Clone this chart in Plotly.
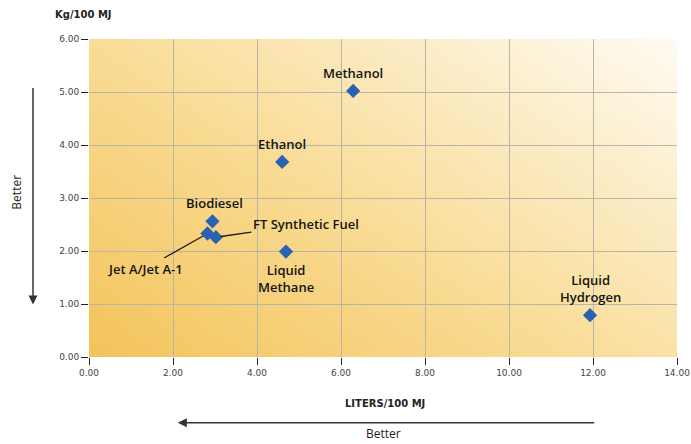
import base64
import struct
import zlib

import plotly.graph_objects as go

# ---- data ----
fuels = ["Methanol", "Ethanol", "Biodiesel", "FT Synthetic Fuel", "Jet A/Jet A-1",
         "Liquid Methane", "Liquid Hydrogen"]
liters_per_100mj = [6.29, 4.60, 2.94, 3.02, 2.82, 4.69, 11.93]
kg_per_100mj = [5.02, 3.68, 2.56, 2.26, 2.33, 1.99, 0.79]
label_text = ["Methanol", "Ethanol", "Biodiesel", "FT Synthetic Fuel", "Jet A/Jet A-1",
              "Liquid<br>Methane", "Liquid<br>Hydrogen"]
x_ticks = [0, 2, 4, 6, 8, 10, 12, 14]
y_ticks = [0, 1, 2, 3, 4, 5, 6]

# ---- label placement (style) ----
label_style = {
    "Methanol": dict(yshift=7, yanchor="bottom"),
    "Ethanol": dict(yshift=7, yanchor="bottom"),
    "Biodiesel": dict(yshift=7, xshift=2, yanchor="bottom"),
    "FT Synthetic Fuel": dict(showarrow=True, ax=90, ay=-13),
    "Jet A/Jet A-1": dict(showarrow=True, ax=-62, ay=35),
    "Liquid Methane": dict(yshift=-7, yanchor="top"),
    "Liquid Hydrogen": dict(yshift=7, yanchor="bottom"),
}


def gradient_png(w, h):
    stops = [(0.0, (243, 196, 92)), (0.45, (249, 220, 150)), (1.0, (254, 251, 242))]

    def col(t):
        for (t0, c0), (t1, c1) in zip(stops[:-1], stops[1:]):
            if t <= t1:
                f = (t - t0) / (t1 - t0)
                return bytes(int(round(a + (b - a) * f)) for a, b in zip(c0, c1))
        return bytes(stops[-1][1])

    raw = b""
    for j in range(h):
        row = b"\x00"
        for i in range(w):
            t = 0.55 * (i / (w - 1)) + 0.45 * (1 - j / (h - 1))
            row += col(t)
        raw += row

    def chunk(tag, data):
        c = struct.pack(">I", len(data)) + tag + data
        return c + struct.pack(">I", zlib.crc32(tag + data) & 0xFFFFFFFF)

    png = b"\x89PNG\r\n\x1a\n"
    png += chunk(b"IHDR", struct.pack(">IIBBBBB", w, h, 8, 2, 0, 0, 0))
    png += chunk(b"IDAT", zlib.compress(raw, 9))
    png += chunk(b"IEND", b"")
    return "data:image/png;base64," + base64.b64encode(png).decode()


fig = go.Figure()
fig.add_trace(go.Scatter(
    x=liters_per_100mj, y=kg_per_100mj, mode="markers", text=fuels,
    marker=dict(symbol="diamond", size=11, color="#2a62b2",
                line=dict(width=0)),
    hoverinfo="text", showlegend=False,
))

label_font = dict(family="Open Sans", size=13, color="#141414", weight=600)
annotations = []
for name, txt, xv, yv in zip(fuels, label_text, liters_per_100mj, kg_per_100mj):
    st = dict(showarrow=False)
    st.update(label_style[name])
    a = dict(x=xv, y=yv, xref="x", yref="y", text=txt, font=label_font)
    if st.get("showarrow"):
        a.update(showarrow=True, ax=st["ax"], ay=st["ay"], arrowhead=0,
                 arrowwidth=1.3, arrowcolor="#1c1c1c", standoff=5)
    else:
        a.update(showarrow=False, yshift=st.get("yshift", 0), xshift=st.get("xshift", 0),
                 yanchor=st.get("yanchor", "middle"))
    annotations.append(a)

title_font = dict(family="DejaVu Sans", size=10, color="#222", weight="bold")
better_font = dict(family="Open Sans", size=12, color="#222")
# axis titles
annotations.append(dict(x=-0.0102, y=1.078, xref="paper", yref="paper", text="Kg/100 MJ",
                        showarrow=False, font=title_font,
                        xanchor="center", yanchor="middle"))
annotations.append(dict(x=0.503, y=-0.145, xref="paper", yref="paper", text="LITERS/100 MJ",
                        showarrow=False, font=title_font,
                        xanchor="center", yanchor="middle"))
# "Better" arrows
annotations.append(dict(x=-0.0952, y=0.165, xref="paper", yref="paper", text="",
                        showarrow=True, ax=0, ay=-218, arrowhead=2, arrowsize=1.2,
                        arrowwidth=1.5, arrowcolor="#333"))
annotations.append(dict(x=-0.123, y=0.519, xref="paper", yref="paper", text="Better",
                        textangle=-90, showarrow=False, font=better_font,
                        xanchor="center", yanchor="middle"))
annotations.append(dict(x=0.151, y=-0.207, xref="paper", yref="paper", text="",
                        showarrow=True, ax=418, ay=0, arrowhead=2, arrowsize=1.2,
                        arrowwidth=1.5, arrowcolor="#333"))
annotations.append(dict(x=0.5, y=-0.239, xref="paper", yref="paper", text="Better",
                        showarrow=False, font=better_font,
                        xanchor="center", yanchor="middle"))

axis_common = dict(showgrid=True, gridcolor="#b8b4a8", gridwidth=1, zeroline=False,
                   showline=False, ticks="outside", ticklen=7, tickwidth=1.3,
                   tickcolor="#222", tickformat=".2f", automargin=False,
                   tickfont=dict(family="DejaVu Sans", size=9, color="#444"))

fig.update_layout(
    width=691, height=444,
    margin=dict(l=89, r=14, t=39, b=87, autoexpand=False),
    paper_bgcolor="white",
    plot_bgcolor="rgba(0,0,0,0)",
    xaxis=dict(range=[0, 14], tickvals=x_ticks, **axis_common),
    yaxis=dict(range=[0, 6], tickvals=y_ticks, **axis_common),
    annotations=annotations,
    images=[dict(source=gradient_png(120, 70), xref="x", yref="y", x=0, y=6,
                 sizex=14, sizey=6, xanchor="left", yanchor="top",
                 sizing="stretch", layer="below")],
)

fig.write_html("out.html", config={"displayModeBar": False},
               post_script="document.body.style.margin='0';document.body.style.overflow='hidden';")
